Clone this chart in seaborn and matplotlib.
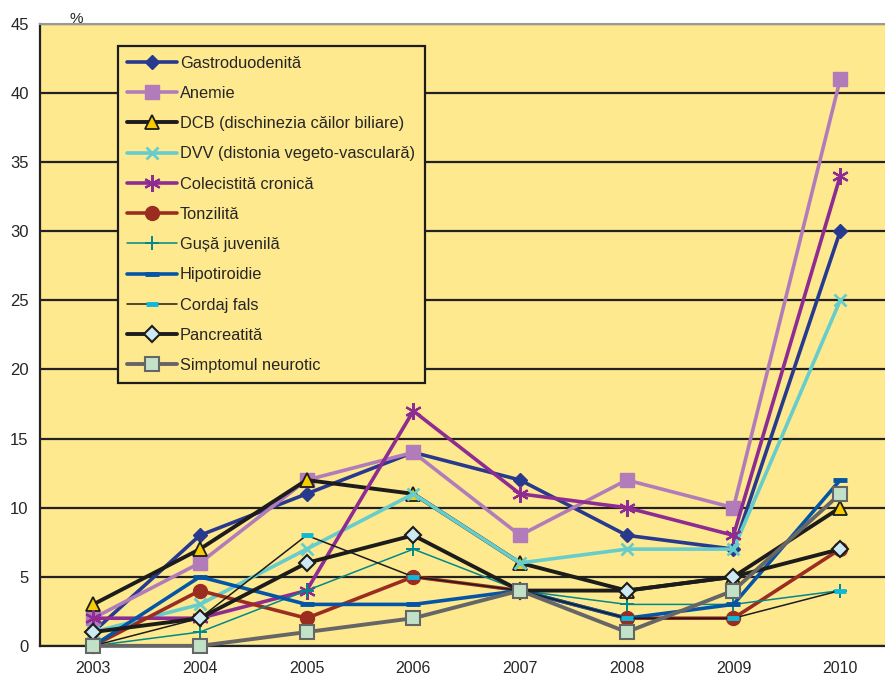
import numpy as np
import pandas as pd
import matplotlib
matplotlib.use("Agg")
import matplotlib.pyplot as plt
import seaborn as sns

years = ["2003", "2004", "2005", "2006", "2007", "2008", "2009", "2010"]

gastroduodenita = [1, 8, 11, 14, 12, 8, 7, 30]
anemie = [2, 6, 12, 14, 8, 12, 10, 41]
dcb = [3, 7, 12, 11, 6, 4, 5, 10]
dvv = [1, 3, 7, 11, 6, 7, 7, 25]
colecistita = [2, 2, 4, 17, 11, 10, 8, 34]
tonzilita = [0, 4, 2, 5, 4, 2, 2, 7]
gusa = [0, 1, 4, 7, 4, 3, 3, 4]
hipotiroidie = [0, 5, 3, 3, 4, 2, 3, 12]
cordaj = [0, 2, 8, 5, 4, 2, 2, 4]
pancreatita = [1, 2, 6, 8, 4, 4, 5, 7]
simptomul = [0, 0, 1, 2, 4, 1, 4, 11]

series = [
    ("Gastroduodenită", gastroduodenita),
    ("Anemie", anemie),
    ("DCB (dischinezia căilor biliare)", dcb),
    ("DVV (distonia vegeto-vasculară)", dvv),
    ("Colecistită cronică", colecistita),
    ("Tonzilită", tonzilita),
    ("Gușă juvenilă", gusa),
    ("Hipotiroidie", hipotiroidie),
    ("Cordaj fals", cordaj),
    ("Pancreatită", pancreatita),
    ("Simptomul neurotic", simptomul),
]

# line colour, width, marker, marker size, marker face, marker edge, marker edge width
styles = {
    "Gastroduodenită": ("#283a8e", 2.6, "D", 7.5, "#283a8e", "#283a8e", 1),
    "Anemie": ("#b17cb9", 2.6, "s", 9.5, "#b17cb9", "#b17cb9", 1),
    "DCB (dischinezia căilor biliare)": ("#1c1c1c", 2.8, "^", 10, "#f7cc00", "#1c1c1c", 1.3),
    "DVV (distonia vegeto-vasculară)": ("#66cccc", 2.6, "x", 9, "#66cccc", "#66cccc", 2),
    "Colecistită cronică": ("#8e2c91", 2.6, (6, 2, 0), 12, "#8e2c91", "#8e2c91", 1.6),
    "Tonzilită": ("#9b2d20", 2.6, "o", 10, "#9b2d20", "#9b2d20", 1),
    "Gușă juvenilă": ("#00888a", 1.1, "+", 10, "#00888a", "#00888a", 1.4),
    "Hipotiroidie": ("#0555a6", 2.6, "_", 10, "#0555a6", "#0555a6", 3.5),
    "Cordaj fals": ("#1c1c1c", 1.1, "_", 9, "#10b8d8", "#10b8d8", 3.5),
    "Pancreatită": ("#1c1c1c", 2.8, "D", 8, "#cdeaf2", "#1c1c1c", 1.5),
    "Simptomul neurotic": ("#666666", 2.8, "s", 10, "#c2e2c8", "#666666", 1.5),
}

rows = []
for name, vals in series:
    for i, v in enumerate(vals):
        rows.append([i, name, v])
df = pd.DataFrame(rows, columns=["pos", "Series", "Value"])

sns.set_style("white")
plt.rcParams["font.family"] = ["Liberation Sans", "DejaVu Sans"]

fig = plt.figure(figsize=(8.85, 6.77), dpi=100)
ax = fig.add_axes([0.045, 0.046, 0.955, 0.9185])
bg = "#fee98f"
ax.set_facecolor(bg)

for name, _ in series:
    c, lw, m, ms, mfc, mec, mew = styles[name]
    sub = df[df["Series"] == name]
    sns.lineplot(data=sub, x="pos", y="Value", ax=ax, color=c, linewidth=lw,
                 marker=m, markersize=ms, markerfacecolor=mfc, markeredgecolor=mec,
                 markeredgewidth=mew, label=name, clip_on=False, zorder=3)

ax.set_ylim(0, 45)
ax.set_xlim(-0.5, 7.42)
ax.set_yticks(np.arange(0, 46, 5))
ax.yaxis.grid(True, color="#222222", linewidth=1.6)
ax.set_axisbelow(True)

ax.set_xticks(np.arange(-0.5, 7.5, 1))
ax.set_xticklabels([])
ax.set_xticks(np.arange(len(years)), minor=True)
ax.set_xticklabels(years, minor=True)
ax.tick_params(axis="x", which="major", direction="out", length=6, width=1.2, color="#222222")
ax.tick_params(axis="x", which="minor", length=0, pad=11, labelsize=11.5)
ax.tick_params(axis="y", direction="out", length=6, width=1.2, color="#222222", labelsize=12, pad=2)
ax.set_xlabel(None)
ax.set_ylabel(None)

for side in ["left", "bottom"]:
    ax.spines[side].set_color("#222222")
    ax.spines[side].set_linewidth(1.6)
ax.spines["top"].set_color("#999999")
ax.spines["top"].set_linewidth(1.5)
ax.spines["right"].set_visible(False)

fig.text(0.079, 0.966, "%", fontsize=11)

leg = ax.legend(loc="upper left", bbox_to_anchor=(0.092, 0.965), fontsize=11.8,
                frameon=True, fancybox=False, facecolor=bg, edgecolor="#1c1c1c",
                framealpha=1, labelspacing=0.93, handlelength=3.0, handletextpad=0.2,
                borderpad=0.6, borderaxespad=0)
leg.get_frame().set_linewidth(1.6)
leg.set_zorder(5)

fig.savefig("out.png", dpi=100)
